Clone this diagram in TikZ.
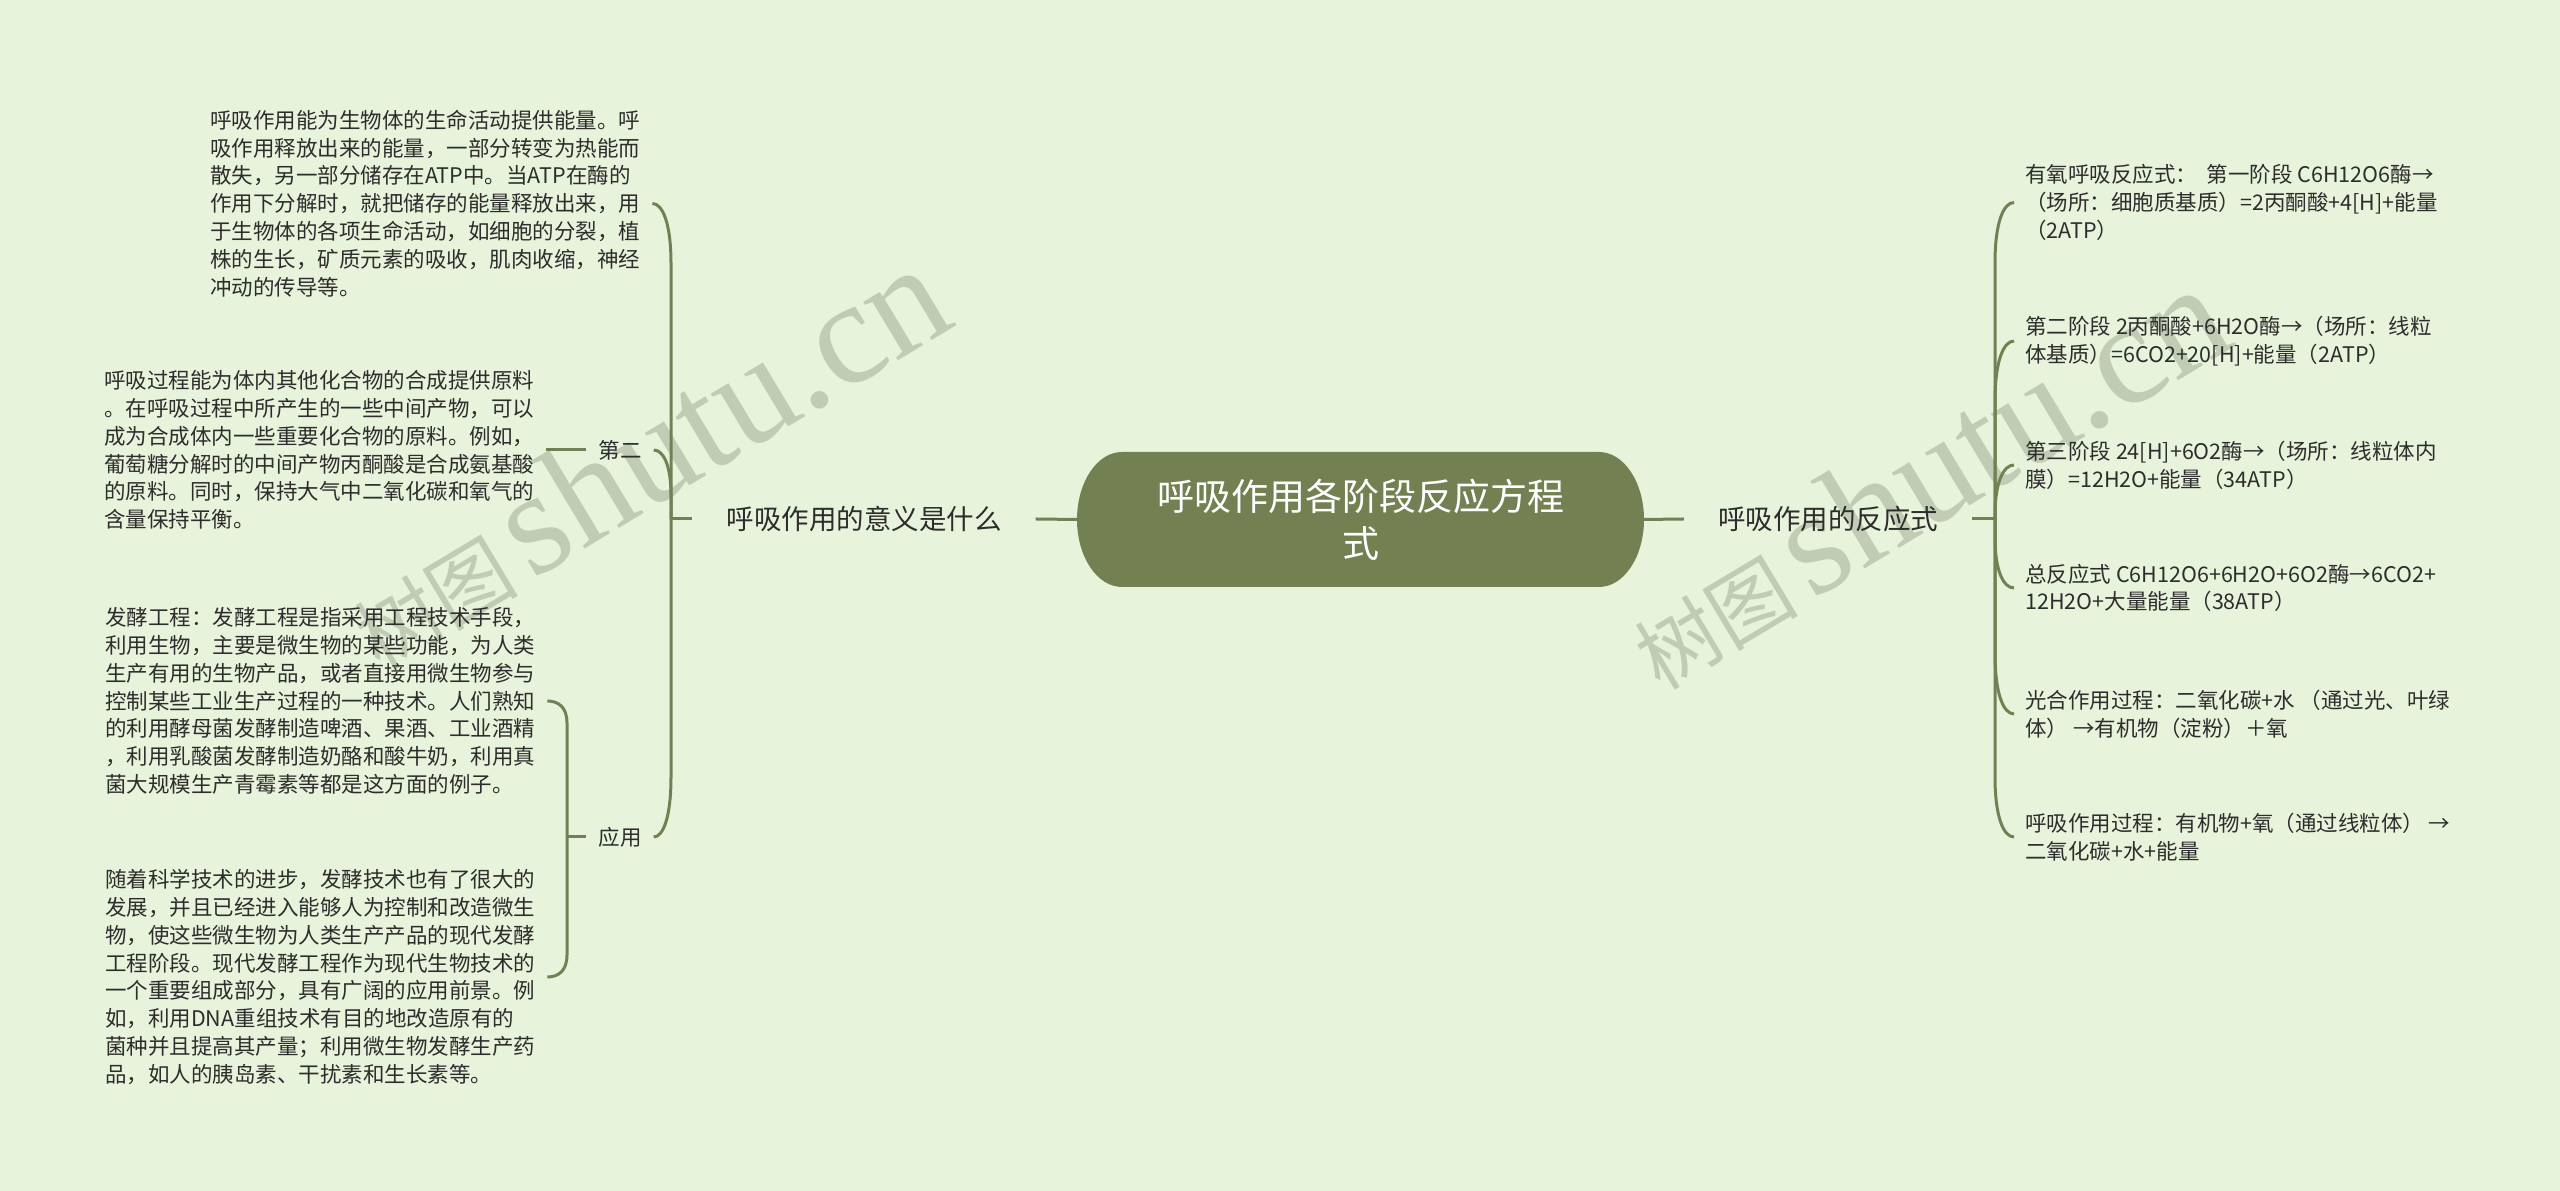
\documentclass[tikz,border=0pt]{standalone}
\usepackage{fontspec}
\setmainfont{Noto Sans CJK SC}
\newfontfamily\wmlat{Liberation Serif}
\newfontfamily\wmcjk{Noto Sans CJK SC}
\usetikzlibrary{calc}
\definecolor{bgc}{RGB}{232,243,219}
\definecolor{lc}{RGB}{115,128,84}
\definecolor{cfill}{RGB}{114,128,82}
\definecolor{tc}{RGB}{45,45,45}
\definecolor{wmc}{RGB}{192,205,180}
\newcommand{\mmlink}[4]{\draw[link] (#1) -- ($(#1 |- #2)+(0,#3)$) .. controls ($(#1 |- #2)+(0,#4)$) and ($(#1 |- #2)!0.45!(#2)$) .. (#2);}
\begin{document}
\begin{tikzpicture}[x=1pt,y=1pt,
  link/.style={draw=lc, line width=3pt},
  leaf/.style={font=\fontsize{21.5}{27.8}\selectfont, text=tc, align=left, inner ysep=0pt, inner xsep=12pt},
  sublabel/.style={font=\fontsize{21.5}{27.8}\selectfont, text=tc, inner ysep=2pt, inner xsep=12pt},
  mainlabel/.style={font=\fontsize{27.5}{34}\selectfont, text=tc, inner ysep=2pt, inner xsep=34pt},
  wm/.style={text=wmc, inner sep=0pt}]
\fill[bgc] (0,0) rectangle (2560,1191);
\useasboundingbox (0,0) rectangle (2560,1191);
% watermarks
\node[wm, rotate=31, anchor=base west] (wmA) at (380,519) {{\wmcjk\fontsize{82}{82}\selectfont 树图}\hspace{14pt}{\wmlat\fontsize{148}{148}\selectfont shutu.cn}};
\node[wm, rotate=31, anchor=base west] (wmB) at (1660,499) {{\wmcjk\fontsize{82}{82}\selectfont 树图}\hspace{14pt}{\wmlat\fontsize{148}{148}\selectfont shutu.cn}};
% central node
\fill[cfill] (1122,739) -- (1599,739) arc[start angle=90,end angle=-90,x radius=45,y radius=67.5] -- (1122,604) arc[start angle=270,end angle=90,x radius=45,y radius=67.5] -- cycle;
\node[minimum width=567, minimum height=135, inner sep=0pt, text=white, align=center, font=\fontsize{37}{47}\selectfont] (c) at (1360.5,671.5) {呼吸作用各阶段反应方程\\式};
% main branches
\node[mainlabel] (yi) at (864,672) {呼吸作用的意义是什么};
\node[mainlabel] (fy) at (1828,672) {呼吸作用的反应式};
\draw[link] (c.west) -- (yi.east);
\draw[link] (c.east) -- (fy.west);
% left side
\coordinate (ls) at (671,672);
\draw[link] (yi.west) -- (ls);
\node[leaf, anchor=west] (b1) at (198,987.5) {呼吸作用能为生物体的生命活动提供能量。呼\\吸作用释放出来的能量，一部分转变为热能而\\散失，另一部分储存在ATP中。当ATP在酶的\\作用下分解时，就把储存的能量释放出来，用\\于生物体的各项生命活动，如细胞的分裂，植\\株的生长，矿质元素的吸收，肌肉收缩，神经\\冲动的传导等。};
\node[sublabel] (er) at (620,741) {第二};
\node[sublabel] (yy) at (620,354) {应用};
\mmlink{ls}{b1.east}{-60}{-20}
\mmlink{ls}{er.east}{-45}{-15}
\mmlink{ls}{yy.east}{60}{20}
\node[leaf, anchor=east] (b2) at ($(er.west)+(-40,0)$) {呼吸过程能为体内其他化合物的合成提供原料\\。在呼吸过程中所产生的一些中间产物，可以\\成为合成体内一些重要化合物的原料。例如，\\葡萄糖分解时的中间产物丙酮酸是合成氨基酸\\的原料。同时，保持大气中二氧化碳和氧气的\\含量保持平衡。};
\draw[link] (er.west) -- (b2.east);
\coordinate (ys) at (567,354);
\draw[link] (yy.west) -- (ys);
\node[leaf, anchor=west] (b3) at (93,490) {发酵工程：发酵工程是指采用工程技术手段，\\利用生物，主要是微生物的某些功能，为人类\\生产有用的生物产品，或者直接用微生物参与\\控制某些工业生产过程的一种技术。人们熟知\\的利用酵母菌发酵制造啤酒、果酒、工业酒精\\，利用乳酸菌发酵制造奶酪和酸牛奶，利用真\\菌大规模生产青霉素等都是这方面的例子。};
\node[leaf, anchor=west] (b4) at (93,214) {随着科学技术的进步，发酵技术也有了很大的\\发展，并且已经进入能够人为控制和改造微生\\物，使这些微生物为人类生产产品的现代发酵\\工程阶段。现代发酵工程作为现代生物技术的\\一个重要组成部分，具有广阔的应用前景。例\\如，利用DNA重组技术有目的地改造原有的\\菌种并且提高其产量；利用微生物发酵生产药\\品，如人的胰岛素、干扰素和生长素等。};
\mmlink{ys}{b3.east}{-22}{-6}
\mmlink{ys}{b4.east}{22}{6}
% right side
\coordinate (rs) at (1995,672);
\draw[link] (fy.east) -- (rs);
\node[leaf, anchor=west, inner xsep=11pt] (r1) at (2014,988.5) {有氧呼吸反应式：\ \ 第一阶段 C6H12O6酶→\\（场所：细胞质基质）=2丙酮酸+4[H]+能量\\（2ATP）};
\node[leaf, anchor=west, inner xsep=11pt] (r2) at (2014,850) {第二阶段 2丙酮酸+6H2O酶→（场所：线粒\\体基质）=6CO2+20[H]+能量（2ATP）};
\node[leaf, anchor=west, inner xsep=11pt] (r3) at (2014,726) {第三阶段 24[H]+6O2酶→（场所：线粒体内\\膜）=12H2O+能量（34ATP）};
\node[leaf, anchor=west, inner xsep=11pt] (r4) at (2014,603) {总反应式 C6H12O6+6H2O+6O2酶→6CO2+\\12H2O+大量能量（38ATP）};
\node[leaf, anchor=west, inner xsep=11pt] (r5) at (2014,477) {光合作用过程：二氧化碳+水 （通过光、叶绿\\体） →有机物（淀粉）＋氧};
\node[leaf, anchor=west, inner xsep=11pt] (r6) at (2014,354) {呼吸作用过程：有机物+氧（通过线粒体） →\\二氧化碳+水+能量};
\mmlink{rs}{r1.west}{-60}{-20}
\mmlink{rs}{r2.west}{-60}{-20}
\mmlink{rs}{r3.west}{-50}{-17}
\mmlink{rs}{r4.west}{50}{17}
\mmlink{rs}{r5.west}{60}{20}
\mmlink{rs}{r6.west}{60}{20}
\end{tikzpicture}
\end{document}
